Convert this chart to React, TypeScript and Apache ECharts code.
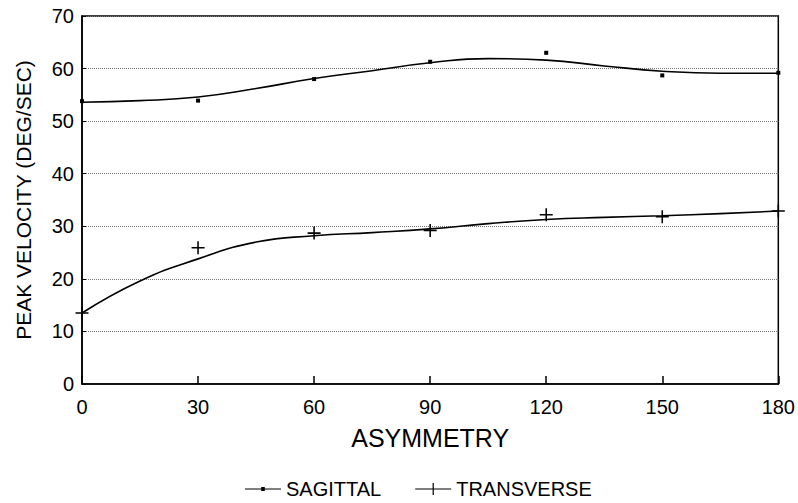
import React, { useEffect, useRef } from "react";
import * as echarts from "echarts";

// Asymmetry (x) positions
const xTicks = [0, 30, 60, 90, 120, 150, 180];

// Measured points
const sagittalPoints = [53.8, 53.9, 58.0, 61.3, 63.0, 58.7, 59.2];
const transversePoints = [13.5, 25.9, 28.7, 29.2, 32.2, 31.8, 32.9];

// Fitted curves, every 15 units of asymmetry
const curveX = [0, 15, 30, 45, 60, 75, 90, 105, 120, 135, 150, 165, 180];
const sagittalCurve = [53.6, 53.9, 54.6, 56.2, 58.1, 59.6, 61.1, 61.9, 61.6, 60.5, 59.5, 59.1, 59.1];
const transverseCurve = [13.5, 19.6, 23.8, 27.0, 28.2, 28.8, 29.5, 30.5, 31.3, 31.7, 32.0, 32.4, 32.9];

const FONT = "'Liberation Sans', Arial, Helvetica, sans-serif";
const PLUS = "path://M0,4.4H10V5.6H0Z M4.4,0H5.6V10H4.4Z";
const DOT_LINE = "path://M0,4.5H30V5.5H0Z M13.5,3.4H16.5V6.6H13.5Z";
const PLUS_LINE = "path://M0,4.5H30V5.5H0Z M14.5,0H15.5V10H14.5Z";

export default function App() {
  const ref = useRef<HTMLDivElement>(null);
  useEffect(() => {
    if (!ref.current) return;
    const chart = echarts.init(ref.current, null, { renderer: "svg" });
    chart.setOption({
      animation: false,
      backgroundColor: "#fff",
      textStyle: { fontFamily: FONT, color: "#000" },
      grid: {
        left: 82,
        right: 16,
        top: 16,
        bottom: 119,
        show: true,
        borderColor: "#000",
        borderWidth: 1.5,
      },
      legend: {
        left: 240,
        top: 474,
        itemWidth: 36,
        itemHeight: 12,
        itemGap: 34,
        selectedMode: false,
        textStyle: { fontFamily: FONT, fontSize: 20, color: "#000" },
        data: [
          { name: "SAGITTAL", icon: DOT_LINE, itemStyle: { color: "#000" } },
          { name: "TRANSVERSE", icon: PLUS_LINE, itemStyle: { color: "#000" } },
        ],
      },
      xAxis: {
        type: "value",
        min: 0,
        max: 180,
        interval: 30,
        name: "ASYMMETRY",
        nameLocation: "middle",
        nameGap: 41,
        nameTextStyle: { fontFamily: FONT, fontSize: 25, color: "#000" },
        axisLine: { lineStyle: { color: "#000", width: 1.5 } },
        axisTick: { inside: true, length: 8, lineStyle: { color: "#000", width: 1.5 } },
        axisLabel: {
          fontFamily: FONT,
          fontSize: 20,
          color: "#000",
          margin: 13,
          formatter: (v: number) => String(v),
        },
        splitLine: { show: false },
      },
      yAxis: {
        type: "value",
        min: 0,
        max: 70,
        interval: 10,
        name: "PEAK VELOCITY (DEG/SEC)",
        nameLocation: "middle",
        nameGap: 48,
        nameTextStyle: { fontFamily: FONT, fontSize: 21, color: "#000" },
        axisLine: { show: true, lineStyle: { color: "#000", width: 1.5 } },
        axisTick: { show: true, inside: true, length: 4, lineStyle: { color: "#000" } },
        axisLabel: { fontFamily: FONT, fontSize: 20, color: "#000", margin: 8 },
        splitLine: { show: true, lineStyle: { color: "#777", type: "dotted", width: 1 } },
      },
      series: [
        {
          name: "SAGITTAL",
          type: "line",
          smooth: 0.5,
          showSymbol: false,
          symbol: "none",
          data: curveX.map((x, i) => [x, sagittalCurve[i]]),
          lineStyle: { color: "#000", width: 1.6 },
          itemStyle: { color: "#000" },
          z: 3,
        },
        {
          name: "TRANSVERSE",
          type: "line",
          smooth: 0.5,
          showSymbol: false,
          symbol: "none",
          data: curveX.map((x, i) => [x, transverseCurve[i]]),
          lineStyle: { color: "#000", width: 1.6 },
          itemStyle: { color: "#000" },
          z: 3,
        },
        {
          name: "SAGITTAL",
          type: "scatter",
          symbol: "rect",
          symbolSize: 4,
          data: xTicks.map((x, i) => [x, sagittalPoints[i]]),
          itemStyle: { color: "#000", opacity: 1 },
          z: 4,
        },
        {
          name: "TRANSVERSE",
          type: "scatter",
          symbol: PLUS,
          symbolSize: 13,
          data: xTicks.map((x, i) => [x, transversePoints[i]]),
          itemStyle: { color: "#000", opacity: 1 },
          z: 4,
        },
      ],
    });
    return () => chart.dispose();
  }, []);
  return <div ref={ref} style={{ width: 798, height: 503, position: "absolute", left: 0, top: 0 }} />;
}
